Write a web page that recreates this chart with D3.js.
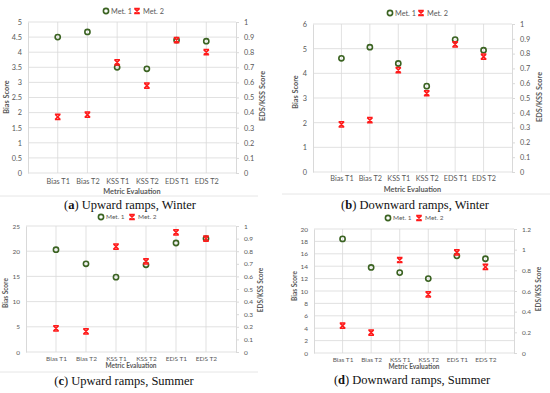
<!DOCTYPE html>
<html>
<head>
<meta charset="utf-8">
<script src="https://cdn.jsdelivr.net/npm/d3@7"></script>
<style>
  body { margin: 0; background: #fff; }
  text { font-family: Lato, "Open Sans", sans-serif; }
  .caption { font-family: "Liberation Serif", "DejaVu Serif", serif; }
</style>
</head>
<body>
<div id="plot"></div>
<script>
// categories shared by the four panels
var categories = ["Bias T1", "Bias T2", "KSS T1", "KSS T2", "EDS T1", "EDS T2"];

// Bias values read on the left axis, KSS/EDS values on the right axis
var upWinterMet1 = [4.5, 4.67, 0.70, 0.69, 0.88, 0.873];
var upWinterMet2 = [1.86, 1.93, 0.733, 0.578, 0.88, 0.80];
var downWinterMet1 = [4.61, 5.06, 0.733, 0.58, 0.895, 0.823];
var downWinterMet2 = [1.93, 2.1, 0.688, 0.532, 0.862, 0.779];
var upSummerMet1 = [20.3, 17.5, 0.594, 0.692, 0.865, 0.90];
var upSummerMet2 = [4.7, 4.1, 0.836, 0.72, 0.95, 0.90];
var downSummerMet1 = [18.4, 13.8, 0.778, 0.72, 0.94, 0.912];
var downSummerMet2 = [4.4, 3.3, 0.90, 0.568, 0.973, 0.834];

// tick labels
var leftTicksA = [0, 0.5, 1, 1.5, 2, 2.5, 3, 3.5, 4, 4.5, 5];
var leftTicksB = [0, 1, 2, 3, 4, 5, 6];
var leftTicksC = [0, 5, 10, 15, 20, 25];
var leftTicksD = [0, 2, 4, 6, 8, 10, 12, 14, 16, 18, 20];
var rightTicks1 = [0, 0.1, 0.2, 0.3, 0.4, 0.5, 0.6, 0.7, 0.8, 0.9, 1];
var rightTicksD = [0, 0.2, 0.4, 0.6, 0.8, 1, 1.2];

var seriesNames = ["Met. 1", "Met. 2"];

var width = 550;
var height = 393;
var green = "#3b6322";
var red = "#ff1a1a";
var grid = "#d9d9d9";
var txt = "#595959";

var svg = d3.select("div#plot")
  .append("svg")
  .attr("width", width)
  .attr("height", height);

// panel separators
[[0, 196, 258], [0, 372, 258], [282, 194, 550]].forEach(function(s){
  svg.append("line")
    .attr("x1", s[0]).attr("x2", s[2])
    .attr("y1", s[1]).attr("y2", s[1])
    .style("stroke", "#e6e6e6");
});

var panels = [
  {m1: upWinterMet1, m2: upWinterMet2, lt: leftTicksA, rt: rightTicks1, fs: 7.3,
   x0: 28, x1: 236, y0: 173, y1: 22, legY: 11, legX: 106,
   catY: 181, titleY: 191, capY: 209, capX: 130,
   letter: "a", cap: " Upward ramps, Winter",
   lTitleX: 6, lTitleY: 97, rTitleX: 262, rTitleY: 96},
  {m1: downWinterMet1, m2: downWinterMet2, lt: leftTicksB, rt: rightTicks1, fs: 7.3,
   x0: 313, x1: 512, y0: 172, y1: 24, legY: 13, legX: 390,
   catY: 178, titleY: 189, capY: 209, capX: 415,
   letter: "b", cap: " Downward ramps, Winter",
   lTitleX: 295, lTitleY: 92, rTitleX: 539, rTitleY: 97},
  {m1: upSummerMet1, m2: upSummerMet2, lt: leftTicksC, rt: rightTicks1, fs: 6.5,
   x0: 26, x1: 236, y0: 352, y1: 226, legY: 217, legX: 101,
   catY: 359, titleY: 366, capY: 385, capX: 124,
   letter: "c", cap: " Upward ramps, Summer",
   lTitleX: 6, lTitleY: 293, rTitleX: 261, rTitleY: 290},
  {m1: downSummerMet1, m2: downSummerMet2, lt: leftTicksD, rt: rightTicksD, fs: 6.5,
   x0: 314, x1: 514, y0: 353, y1: 229, legY: 218, legX: 388,
   catY: 360, titleY: 367, capY: 384, capX: 412,
   letter: "d", cap: " Downward ramps, Summer",
   lTitleX: 295, lTitleY: 286, rTitleX: 539, rTitleY: 289}
];

// Excel style "x" marker (bow tie)
function xMark(g, x, y){
  g.append("path")
    .attr("d", "M" + (x - 2.6) + "," + (y - 2.6) + "L" + (x + 2.6) + "," + (y + 2.6) +
      "M" + (x + 2.6) + "," + (y - 2.6) + "L" + (x - 2.6) + "," + (y + 2.6) +
      "M" + (x - 2.8) + "," + (y - 2.6) + "L" + (x + 2.8) + "," + (y - 2.6) +
      "M" + (x - 2.8) + "," + (y + 2.6) + "L" + (x + 2.8) + "," + (y + 2.6))
    .style("stroke", red)
    .style("stroke-width", 1.5)
    .style("fill", "none");
}
function oMark(g, x, y){
  g.append("circle")
    .attr("cx", x).attr("cy", y).attr("r", 2.6)
    .style("fill", "none")
    .style("stroke", green)
    .style("stroke-width", 1.6);
}

panels.forEach(function(p){
  var g = svg.append("g");
  var fs = p.fs + "px";
  var leftMax = p.lt[p.lt.length - 1];
  var rightMax = p.rt[p.rt.length - 1];

  var x = d3.scalePoint().domain(categories).range([p.x0, p.x1]).padding(1);
  var yL = d3.scaleLinear().domain([0, leftMax]).range([p.y0, p.y1]);
  var yR = d3.scaleLinear().domain([0, rightMax]).range([p.y0, p.y1]);

  // horizontal gridlines
  g.selectAll(".hg").data(p.lt).enter().append("line")
    .attr("x1", p.x0).attr("x2", p.x1)
    .attr("y1", function(d){ return yL(d); })
    .attr("y2", function(d){ return yL(d); })
    .style("stroke", grid).style("stroke-width", 0.8);

  // vertical gridlines at categories
  g.selectAll(".vg").data(categories).enter().append("line")
    .attr("x1", function(d){ return x(d); })
    .attr("x2", function(d){ return x(d); })
    .attr("y1", p.y0).attr("y2", p.y1)
    .style("stroke", grid).style("stroke-width", 0.8);

  // left axis
  var la = g.append("g")
    .attr("transform", "translate(" + p.x0 + ",0)")
    .call(d3.axisLeft(yL).tickValues(p.lt).tickFormat(d3.format("~g")).tickSize(0).tickPadding(6));
  // right axis
  var ra = g.append("g")
    .attr("transform", "translate(" + p.x1 + ",0)")
    .call(d3.axisRight(yR).tickValues(p.rt).tickFormat(d3.format("~g")).tickSize(3).tickPadding(5));
  // bottom axis
  var ba = g.append("g")
    .attr("transform", "translate(0," + p.y0 + ")")
    .call(d3.axisBottom(x).tickSize(0));

  [la, ra, ba].forEach(function(a){
    a.select(".domain").style("stroke", grid);
    a.selectAll(".tick line").style("stroke", grid);
    a.selectAll("text").style("fill", txt).style("font-size", fs)
      .style("font-family", "Lato, 'Open Sans', sans-serif");
  });
  ba.select(".domain").remove();
  ba.selectAll("text").attr("dy", "0.35em").attr("y", p.catY - p.y0);

  // axis titles
  g.append("text")
    .attr("x", (p.x0 + p.x1) / 2).attr("y", p.titleY).attr("dy", "0.35em")
    .attr("text-anchor", "middle")
    .style("font-size", fs).style("font-weight", "bold").style("fill", txt)
    .text("Metric Evaluation");
  g.append("text")
    .attr("transform", "translate(" + p.lTitleX + "," + p.lTitleY + ") rotate(-90)")
    .attr("text-anchor", "middle").attr("dy", "0.35em")
    .style("font-size", fs).style("font-weight", "bold").style("fill", txt)
    .text("Bias Score");
  g.append("text")
    .attr("transform", "translate(" + p.rTitleX + "," + p.rTitleY + ") rotate(-90)")
    .attr("text-anchor", "middle").attr("dy", "0.35em")
    .style("font-size", fs).style("font-weight", "bold").style("fill", txt)
    .text("EDS/KSS Score");

  // points
  var yFor = function(c, v){ return c.indexOf("Bias") === 0 ? yL(v) : yR(v); };
  categories.forEach(function(c, i){
    oMark(g, x(c), yFor(c, p.m1[i]));
  });
  categories.forEach(function(c, i){
    xMark(g, x(c), yFor(c, p.m2[i]));
  });

  // legend
  oMark(g, p.legX, p.legY);
  g.append("text").attr("x", p.legX + 5).attr("y", p.legY).attr("dy", "0.35em")
    .style("font-size", fs).style("fill", txt).text(seriesNames[0]);
  xMark(g, p.legX + 31, p.legY);
  g.append("text").attr("x", p.legX + 37).attr("y", p.legY).attr("dy", "0.35em")
    .style("font-size", fs).style("fill", txt).text(seriesNames[1]);

  // caption
  var cap = g.append("text")
    .attr("class", "caption")
    .attr("x", p.capX).attr("y", p.capY)
    .attr("text-anchor", "middle")
    .style("font-size", "12.5px").style("fill", "#111");
  cap.append("tspan").text("(");
  cap.append("tspan").style("font-weight", "bold").text(p.letter);
  cap.append("tspan").text(")" + p.cap);
});
</script>
</body>
</html>
